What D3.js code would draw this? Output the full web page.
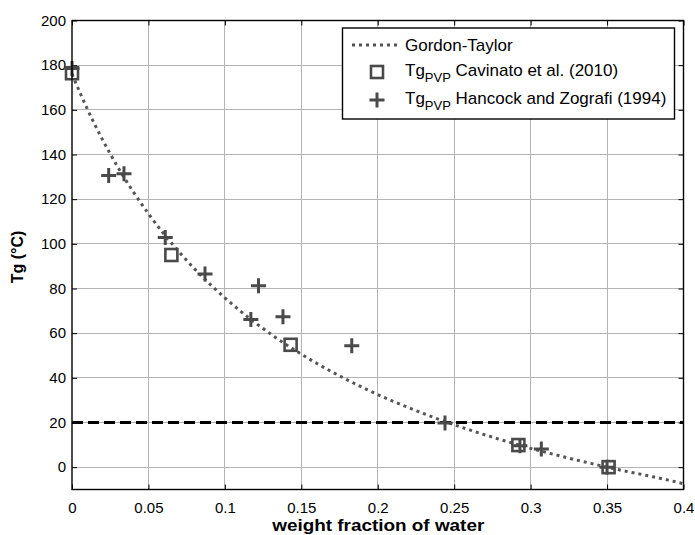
<!DOCTYPE html>
<html>
<head>
<meta charset="utf-8">
<script src="https://cdn.jsdelivr.net/npm/d3@7"></script>
<style>
  body { margin: 0; background: #fff; }
  svg { display: block; font-family: "Liberation Sans", Arial, sans-serif; }
</style>
</head>
<body>
<svg id="chart" width="695" height="535"></svg>
<script>
// ---- data ----
const xTicks = [0, 0.05, 0.1, 0.15, 0.2, 0.25, 0.3, 0.35, 0.4];
const xTickLabels = ["0", "0.05", "0.1", "0.15", "0.2", "0.25", "0.3", "0.35", "0.4"];
const yTicks = [0, 20, 40, 60, 80, 100, 120, 140, 160, 180, 200];
const yTickLabels = ["0", "20", "40", "60", "80", "100", "120", "140", "160", "180", "200"];

// Gordon-Taylor curve
const gtW  = [0, 0.01, 0.02, 0.03, 0.04, 0.05, 0.06, 0.07, 0.08, 0.09, 0.10, 0.11, 0.12, 0.13, 0.14, 0.15, 0.16, 0.17, 0.18, 0.19, 0.20, 0.21, 0.22, 0.23, 0.24, 0.25, 0.26, 0.27, 0.28, 0.29, 0.30, 0.31, 0.32, 0.33, 0.34, 0.35, 0.36, 0.37, 0.38, 0.39, 0.40];
const gtTg = [176, 160.4, 146.6, 134.3, 123.4, 113.5, 104.5, 96.4, 88.9, 82.1, 75.8, 70.0, 64.6, 59.6, 54.9, 50.6, 46.5, 42.7, 39.1, 35.7, 32.5, 29.5, 26.7, 24.0, 21.4, 19.0, 16.7, 14.5, 12.4, 10.4, 8.4, 6.6, 4.9, 3.2, 1.6, 0, -1.5, -2.9, -4.3, -5.8, -7.4];

// Cavinato et al. (2010) - squares
const cavW  = [0, 0.065, 0.143, 0.292, 0.351];
const cavTg = [176.4, 95, 54.8, 9.9, 0];

// Hancock and Zografi (1994) - crosses
const hanW  = [0, 0.024, 0.034, 0.061, 0.087, 0.117, 0.122, 0.138, 0.183, 0.244, 0.293, 0.307, 0.350];
const hanTg = [178.5, 130.6, 131.4, 102.8, 86.5, 66.1, 81.2, 67.4, 54.4, 19.8, 9.6, 8.1, 0];

const refLine = 20;

const legendLabels = ["Gordon-Taylor", "Cavinato et al. (2010)", "Hancock and Zografi (1994)"];

// ---- layout ----
const svg = d3.select("#chart");
const L = 72, R = 683.5, T = 20.5, B = 489.5;
const x = d3.scaleLinear().domain([0, 0.4]).range([L, R]);
const y = d3.scaleLinear().domain([-10, 200]).range([B, T]);
const ink = "#4a4a4a";

// grid
const grid = svg.append("g");
grid.selectAll("line.gx").data(xTicks.slice(1, -1)).enter().append("line")
  .attr("x1", d => x(d)).attr("x2", d => x(d)).attr("y1", T).attr("y2", B)
  .attr("stroke", "#b4b4b4").attr("stroke-width", 1).attr("shape-rendering", "crispEdges");
grid.selectAll("line.gy").data(yTicks).enter().append("line")
  .attr("x1", L).attr("x2", R).attr("y1", d => y(d)).attr("y2", d => y(d))
  .attr("stroke", "#b4b4b4").attr("stroke-width", 1).attr("shape-rendering", "crispEdges");

// axes (inward ticks on all sides)
const fmtX = (d, i) => xTickLabels[i];
const fmtY = (d, i) => yTickLabels[i];
const axB = svg.append("g").attr("transform", `translate(0,${B})`)
  .call(d3.axisBottom(x).tickValues(xTicks).tickFormat(fmtX).tickSizeInner(-5).tickSizeOuter(0).tickPadding(13));
const axT = svg.append("g").attr("transform", `translate(0,${T})`)
  .call(d3.axisTop(x).tickValues(xTicks).tickFormat("").tickSizeInner(-5).tickSizeOuter(0));
const axL = svg.append("g").attr("transform", `translate(${L},0)`)
  .call(d3.axisLeft(y).tickValues(yTicks).tickFormat(fmtY).tickSizeInner(-5).tickSizeOuter(0).tickPadding(6));
const axR = svg.append("g").attr("transform", `translate(${R},0)`)
  .call(d3.axisRight(y).tickValues(yTicks).tickFormat("").tickSizeInner(-5).tickSizeOuter(0));
[axB, axT, axL, axR].forEach(a => {
  a.select(".domain").remove();
  a.selectAll("line").attr("stroke", "#000");
  a.selectAll("text").attr("fill", "#000").style("font-size", "15px").style("font-family", "Liberation Sans, Arial, sans-serif");
});

// reference dashed line
svg.append("line")
  .attr("x1", x(0)).attr("x2", x(0.4)).attr("y1", y(refLine)).attr("y2", y(refLine))
  .attr("stroke", "#000").attr("stroke-width", 3.2).attr("stroke-dasharray", "11,5");

// Gordon-Taylor curve
const gtData = gtW.map((w, i) => [w, gtTg[i]]);
svg.append("path").datum(gtData)
  .attr("d", d3.line().x(d => x(d[0])).y(d => y(d[1])).curve(d3.curveMonotoneX))
  .attr("fill", "none").attr("stroke", "#555").attr("stroke-width", 3)
  .attr("stroke-dasharray", "3,4");

// squares
svg.append("g").selectAll("rect").data(cavW.map((w, i) => [w, cavTg[i]])).enter().append("rect")
  .attr("x", d => x(d[0]) - 6).attr("y", d => y(d[1]) - 6)
  .attr("width", 12).attr("height", 12)
  .attr("fill", "none").attr("stroke", ink).attr("stroke-width", 2.6);

// crosses
const crossPath = (cx, cy, s) => `M${cx - s},${cy}H${cx + s}M${cx},${cy - s}V${cy + s}`;
svg.append("g").selectAll("path").data(hanW.map((w, i) => [w, hanTg[i]])).enter().append("path")
  .attr("d", d => crossPath(x(d[0]), y(d[1]), 7.5))
  .attr("fill", "none").attr("stroke", ink).attr("stroke-width", 3);

// frame
svg.append("rect").attr("x", L).attr("y", T).attr("width", R - L).attr("height", B - T)
  .attr("fill", "none").attr("stroke", "#000").attr("stroke-width", 1.4);

// legend
const lg = svg.append("g");
const lx0 = 342.5, ly0 = 28, lw = 332, lh = 91;
lg.append("rect").attr("x", lx0).attr("y", ly0).attr("width", lw).attr("height", lh)
  .attr("fill", "#fff").attr("stroke", "#000").attr("stroke-width", 1.4);
const rows = [45, 72, 100];
lg.append("line").attr("x1", 352).attr("x2", 398).attr("y1", rows[0]).attr("y2", rows[0])
  .attr("stroke", "#555").attr("stroke-width", 3).attr("stroke-dasharray", "3,4");
lg.append("rect").attr("x", 377 - 6).attr("y", rows[1] - 6).attr("width", 12).attr("height", 12)
  .attr("fill", "none").attr("stroke", ink).attr("stroke-width", 2.6);
lg.append("path").attr("d", crossPath(377, rows[2], 7.5))
  .attr("fill", "none").attr("stroke", ink).attr("stroke-width", 3);

const tx = 405;
lg.append("text").attr("x", tx).attr("y", rows[0] + 6).style("font-size", "17px").text(legendLabels[0]);
[1, 2].forEach(k => {
  const t = lg.append("text").attr("x", tx).attr("y", rows[k] + 4).style("font-size", "17px");
  t.append("tspan").text("Tg");
  t.append("tspan").attr("dy", 6).style("font-size", "13px").text("PVP");
  t.append("tspan").attr("dy", -6).text(" " + legendLabels[k]);
});

// axis titles
svg.append("text").attr("x", (L + R) / 2 + 0.5).attr("y", 531).attr("text-anchor", "middle")
  .attr("textLength", 212).attr("lengthAdjust", "spacingAndGlyphs")
  .style("font-size", "16px").style("font-weight", "bold").text("weight fraction of water");
svg.append("text").attr("transform", `translate(23,${(T + B) / 2 + 2}) rotate(-90)`).attr("text-anchor", "middle")
  .style("font-size", "16px").style("font-weight", "bold").text("Tg (°C)");
</script>
</body>
</html>
